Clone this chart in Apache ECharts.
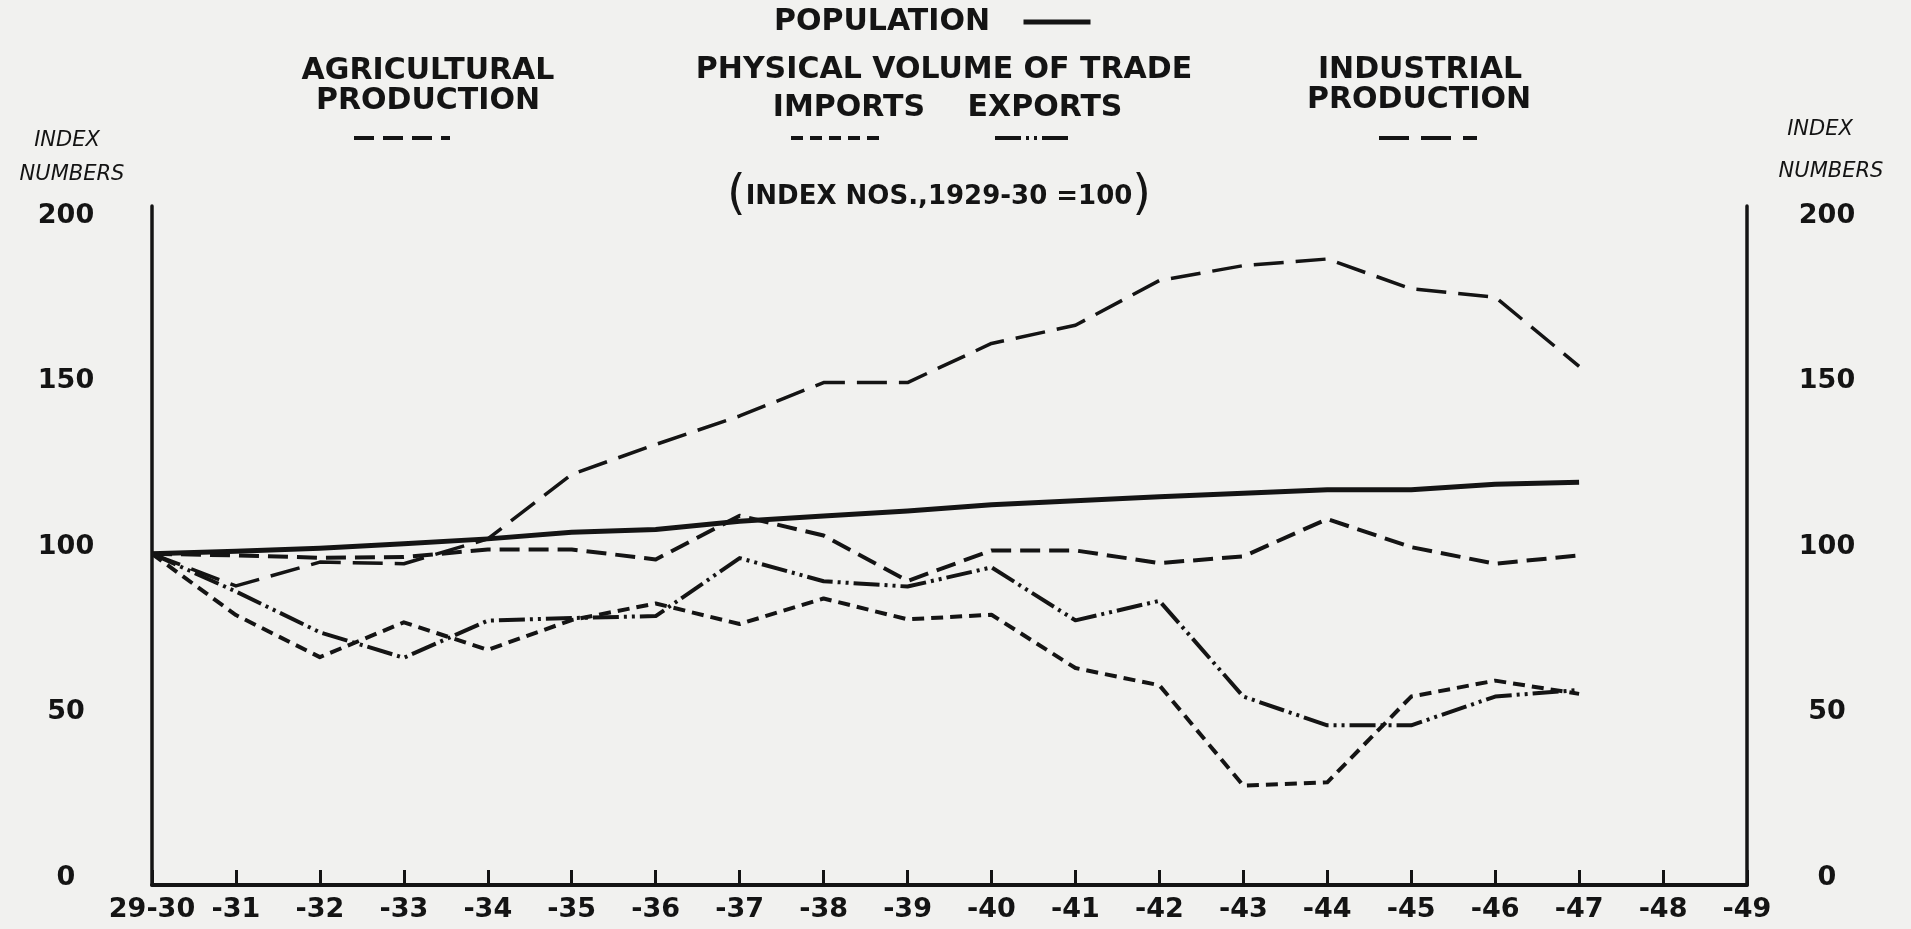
<!DOCTYPE html>
<html>
<head>
<meta charset="utf-8">
<script src="https://cdn.jsdelivr.net/npm/echarts@6/dist/echarts.min.js"></script>
<style>
html,body{margin:0;padding:0;background:#f1f1ef;}
#c{width:1911px;height:929px;}
</style>
</head>
<body>
<div id="c"></div>
<script>
// ---- data ----
const categories = ['29-30','-31','-32','-33','-34','-35','-36','-37','-38','-39','-40','-41','-42','-43','-44','-45','-46','-47','-48','-49'];
const population   = [100, 100.8, 101.7, 103, 104.5, 106.5, 107.3, 109.8, 111.4, 112.9, 114.8, 116, 117.2, 118.3, 119.3, 119.3, 121, 121.6];
const industrial   = [100, 90.3, 97.5, 97, 104.5, 124, 133, 141.6, 151.7, 151.7, 163.5, 169, 182.5, 187, 189, 180, 177.5, 156.6];
const agricultural = [100, 99.5, 98.8, 99, 101.3, 101.3, 98.3, 111.5, 105.5, 91.8, 101, 101, 97.2, 99.2, 110.5, 102, 97, 99.5];
const imports      = [100, 81.5, 68.8, 79.3, 71, 80, 85, 78.8, 86.5, 80.2, 81.6, 65.5, 60.3, 30, 31, 56.9, 61.7, 57.7];
const exports_     = [100, 88.6, 76.3, 68.6, 79.8, 80.6, 81.2, 98.7, 91.7, 90.1, 95.9, 79.9, 85.8, 56.9, 48.2, 48.2, 56.9, 58.9];
const yTicks = [0, 50, 100, 150, 200];

const INK = '#141414';
const FONT = 'DejaVu Sans';

function lineSeries(name, data, width, type) {
  return {
    name, type: 'line', data, symbol: 'none', showSymbol: false,
    lineStyle: { color: INK, width, type, cap: 'butt', join: 'round' },
    itemStyle: { color: INK },
    emphasis: { disabled: true }, silent: true, animation: false
  };
}

function legendAt(name, left, yMid, w, lw) {
  return {
    data: [name], left, top: yMid - 7, itemWidth: w, itemHeight: 14,
    padding: 0, selectedMode: false, formatter: () => '',
    textStyle: { fontSize: 1 }, itemGap: 0,
    itemStyle: { opacity: 0 },
    lineStyle: { width: lw, opacity: 1 }
  };
}

function txt(text, x, y, size, extra) {
  return {
    type: 'text', x, y, silent: true,
    style: Object.assign({
      text, fontSize: size, fontFamily: FONT, fontWeight: 'bold', fill: INK,
      align: 'center', verticalAlign: 'middle'
    }, extra || {})
  };
}

const chart = echarts.init(document.getElementById('c'), null, { renderer: 'canvas' });
const yLabelFmt = v => (yTicks.indexOf(v) >= 0 ? String(v) : '');

chart.setOption({
  backgroundColor: '#f1f1ef',
  animation: false,
  grid: { left: 152, right: 164, top: 206, bottom: 44, containLabel: false },
  xAxis: {
    type: 'category', data: categories, boundaryGap: false,
    axisLine: { lineStyle: { color: INK, width: 4 } },
    axisTick: { inside: true, length: 15, lineStyle: { color: INK, width: 3 } },
    axisLabel: { color: INK, fontFamily: FONT, fontWeight: 'bold', fontSize: 27, margin: 11, interval: 0 },
    splitLine: { show: false }
  },
  yAxis: [
    {
      type: 'value', min: 0, max: 205, interval: 50, position: 'left',
      axisLine: { show: true, lineStyle: { color: INK, width: 3.5 } },
      axisTick: { show: false }, splitLine: { show: false },
      axisLabel: { color: INK, fontFamily: FONT, fontWeight: 'bold', fontSize: 27,
        align: 'center', verticalAlign: 'bottom', lineHeight: 14, margin: 86, formatter: yLabelFmt }
    },
    {
      type: 'value', min: 0, max: 205, interval: 50, position: 'right',
      axisLine: { show: true, lineStyle: { color: INK, width: 3.5 } },
      axisTick: { show: false }, splitLine: { show: false },
      axisLabel: { color: INK, fontFamily: FONT, fontWeight: 'bold', fontSize: 27,
        align: 'center', verticalAlign: 'bottom', lineHeight: 14, margin: 80, formatter: yLabelFmt }
    }
  ],
  legend: [
    legendAt('Population', 1021, 22, 67, 5),
    legendAt('Agricultural Production', 352, 138, 96, 4),
    legendAt('Imports', 789, 138, 89, 4),
    legendAt('Exports', 993, 138, 73, 4),
    legendAt('Industrial Production', 1377, 138, 98, 4)
  ],
  series: [
    lineSeries('Population', population, 5, 'solid'),
    lineSeries('Industrial Production', industrial, 3.5, [30, 12]),
    lineSeries('Agricultural Production', agricultural, 4, [20, 9]),
    lineSeries('Imports', imports, 4, [12, 7]),
    lineSeries('Exports', exports_, 4, [26, 5, 3, 5, 3, 5])
  ],
  graphic: [
    txt('POPULATION', 882, 22, 30),
    txt('AGRICULTURAL', 428, 71, 30),
    txt('PRODUCTION', 428, 101, 30),
    txt('PHYSICAL VOLUME OF TRADE', 944, 70, 30),
    txt('IMPORTS', 849, 108, 30),
    txt('EXPORTS', 1045, 108, 30),
    txt('INDUSTRIAL', 1420, 70, 30),
    txt('PRODUCTION', 1419, 100, 30),
    txt('{p|(}INDEX NOS.,1929-30 =100{p|)}', 939, 197, 26, {
      rich: { p: { fontSize: 48, fontFamily: FONT, fontWeight: 'normal', fill: INK } }
    }),
    txt('INDEX', 67, 141, 21, { fontStyle: 'italic', fontWeight: 'normal' }),
    txt('NUMBERS', 72, 175, 21, { fontStyle: 'italic', fontWeight: 'normal' }),
    txt('INDEX', 1820, 130, 21, { fontStyle: 'italic', fontWeight: 'normal' }),
    txt('NUMBERS', 1831, 172, 21, { fontStyle: 'italic', fontWeight: 'normal' })
  ]
});
</script>
</body>
</html>
